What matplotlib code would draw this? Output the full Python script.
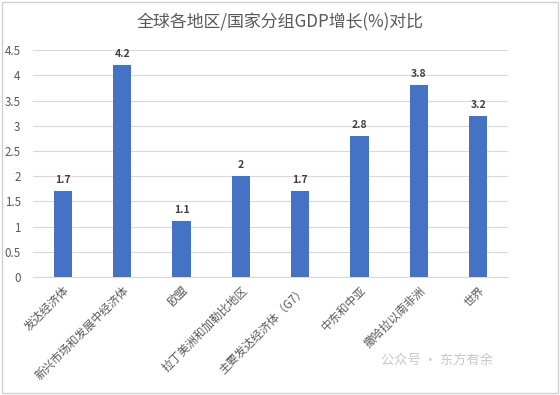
import matplotlib
matplotlib.use("Agg")
import matplotlib.pyplot as plt
import numpy as np

plt.rcParams['font.family'] = ['Noto Sans CJK SC', 'DejaVu Sans']

regions = ["发达经济体", "新兴市场和发展中经济体", "欧盟", "拉丁美洲和加勒比地区",
           "主要发达经济体（G7）", "中东和中亚", "撒哈拉以南非洲", "世界"]
growth = [1.7, 4.2, 1.1, 2.0, 1.7, 2.8, 3.8, 3.2]
value_labels = ["1.7", "4.2", "1.1", "2", "1.7", "2.8", "3.8", "3.2"]
yticks = [0, 0.5, 1, 1.5, 2, 2.5, 3, 3.5, 4, 4.5]
ytick_labels = ["0", "0.5", "1", "1.5", "2", "2.5", "3", "3.5", "4", "4.5"]

fig = plt.figure(figsize=(5.6, 3.95), dpi=100)
ax = fig.add_axes([0.059, 0.299, 0.848, 0.574])

x = np.arange(len(regions))
ax.bar(x, growth, width=0.31, color="#4472C4", zorder=3)
for xi, v, t in zip(x, growth, value_labels):
    ax.text(xi, v + 0.12, t, ha="center", va="bottom", fontsize=7.5,
            fontweight="bold", color="#404040")

ax.set_xlim(-0.5, len(regions) - 0.5)
ax.set_ylim(0, 4.5)
ax.set_yticks(yticks)
ax.set_yticklabels(ytick_labels)
ax.set_xticks(x)
ax.set_xticklabels(regions, rotation=45, ha="right", rotation_mode="anchor")
ax.tick_params(axis="both", length=0, labelsize=8.3, colors="#595959")
ax.tick_params(axis="y", pad=9)
ax.tick_params(axis="x", pad=5)
ax.grid(axis="y", color="#d9d9d9", linewidth=0.8, zorder=0)
for s in ["top", "right", "left"]:
    ax.spines[s].set_visible(False)
ax.spines["bottom"].set_color("#d9d9d9")

fig.text(0.5, 0.943, "全球各地区/国家分组GDP增长(%)对比", ha="center", va="center",
         fontsize=12.2, color="#595959")
fig.text(0.78, 0.088, "公众号 · 东方有余", ha="center", va="center",
         fontsize=9.5, color="#c8c8c8")

fig.patches.append(plt.Rectangle((0.003, 0.004), 0.994, 0.992, transform=fig.transFigure,
                                 fill=False, edgecolor="#d0d0d0", linewidth=1))

fig.savefig("out.png", dpi=100)
